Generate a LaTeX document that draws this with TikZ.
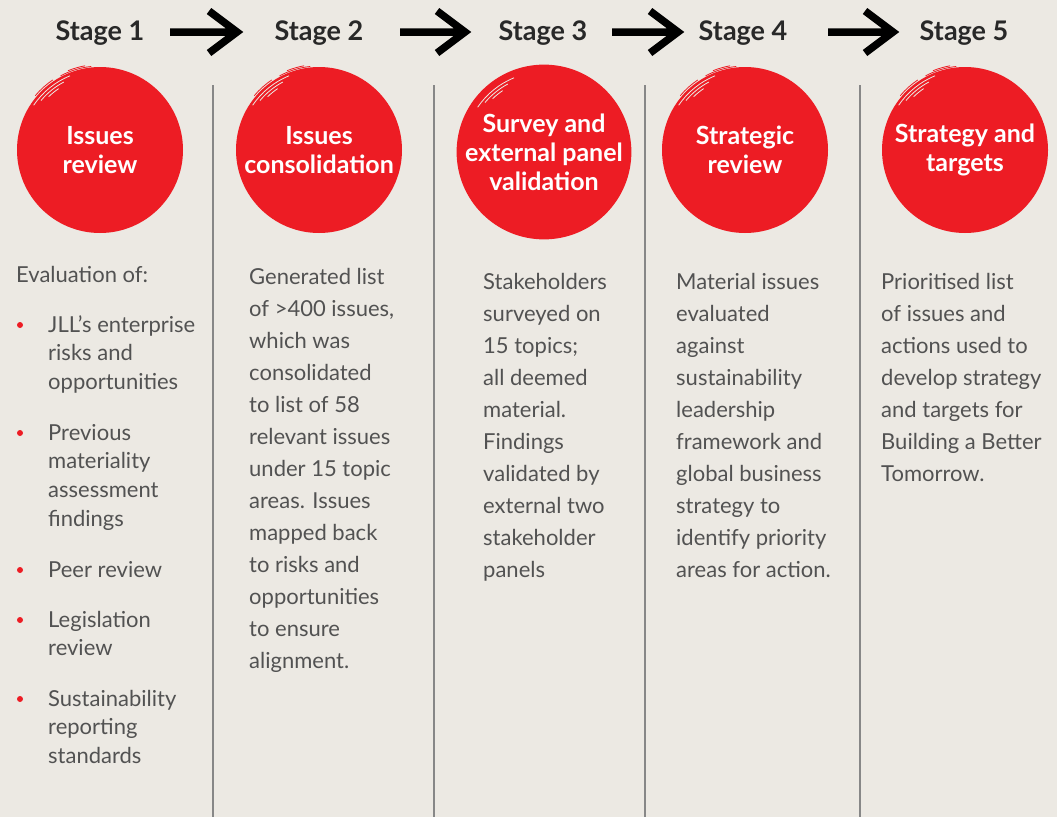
\documentclass[tikz,border=0pt]{standalone}
\usepackage{fontspec}
\setmainfont{Lato}
\definecolor{paper}{RGB}{236,233,227}
\definecolor{jllred}{RGB}{237,28,36}
\definecolor{ink}{RGB}{40,40,40}
\definecolor{bodyink}{RGB}{82,82,82}
\definecolor{rulegray}{RGB}{135,135,135}

\begin{document}
\begin{tikzpicture}[x=1pt,y=-1pt,
    stage/.style={anchor=base,inner sep=0pt,text=ink,font=\fontsize{27}{32}\selectfont\bfseries},
    blob/.style={circle,fill=jllred,minimum size=166pt,inner sep=0pt,text=white,align=center,
      font=\fontsize{25}{29}\selectfont\bfseries},
    bodytext/.style={anchor=base west,align=left,inner sep=0pt,text=bodyink,
      font=\fontsize{22}{32}\selectfont},
    itemtext/.style={bodytext,font=\fontsize{22}{28.7}\selectfont},
    reddot/.style={circle,fill=jllred,minimum size=6pt,inner sep=0pt},
    brush/.style={draw=black,line width=7.5pt,line join=miter},
    divider/.style={draw=rulegray,line width=1.5pt}]

  \fill[paper] (0,0) rectangle (1057,817);
  \useasboundingbox (0,0) rectangle (1057,817);

  % stage headings
  \begin{scope}[every node/.style={stage}]
    \node (s1) at (100,40) {Stage 1};
    \node (s2) at (319,40) {Stage 2};
    \node (s3) at (543,40) {Stage 3};
    \node (s4) at (743,40) {Stage 4};
    \node (s5) at (964,40) {Stage 5};
  \end{scope}

  % arrows between the headings
  \coordinate (a1) at (170,32); \coordinate (b1) at (237,32);
  \coordinate (a2) at (400,32); \coordinate (b2) at (465,32);
  \coordinate (a3) at (612,32); \coordinate (b3) at (678,32);
  \coordinate (a4) at (828,32); \coordinate (b4) at (893,32);
  \foreach \i in {1,...,4}
    \draw[brush] (a\i) -- (b\i) (b\i) ++(-28,-21) -- (b\i) -- ++(-28,21);

  % column dividers
  \coordinate (d1) at (213,85); \coordinate (e1) at (213,817);
  \coordinate (d2) at (434,85); \coordinate (e2) at (434,817);
  \coordinate (d3) at (645,85); \coordinate (e3) at (645,817);
  \coordinate (d4) at (860,85); \coordinate (e4) at (860,817);
  \foreach \i in {1,...,4}
    \path (d\i) edge[divider] (e\i);

  % red brush circles
  \begin{scope}[every node/.style={blob}]
    \node (c1) at (100,150) {Issues\\review};
    \node (c2) at (319,150) {Issues\\consolidation};
    \node (c3) at (544,152) {Survey and\\external panel\\validation};
    \node (c4) at (745,150) {Strategic\\review};
    \node (c5) at (965,150) {Strategy and\\targets};
  \end{scope}
  % brush streaks at the top left of each circle (y runs down, so angles are negative)
  \foreach \c in {c1,c2,c3,c4,c5} {
    \foreach \r/\p/\q in {80/-112/-146,77/-118/-140,74/-124/-134}
      \draw[paper,line width=0.8pt] (\c.center) ++(\p:\r) arc[start angle=\p,end angle=\q,radius=\r];
    \foreach \r/\p/\q in {84/-96/-118,85.5/-100/-112,84.5/-124/-140}
      \draw[jllred,line width=0.8pt] (\c.center) ++(\p:\r) arc[start angle=\p,end angle=\q,radius=\r];
  }

  % stage 1 list (base is the last line)
  \node[itemtext] (t1) at (16,282) {Evaluation of:};
  \begin{scope}[every node/.style={itemtext}]
    \node (i1) at (48,389.4) {JLL’s enterprise\\risks and\\opportunities};
    \node (i2) at (48,526.1) {Previous\\materiality\\assessment\\findings};
    \node (i3) at (48,577)   {Peer review};
    \node (i4) at (48,655.7) {Legislation\\review};
    \node (i5) at (48,763.4) {Sustainability\\reporting\\standards};
  \end{scope}
  \begin{scope}[every node/.style={reddot}]
    \node (p1) at (20,325) {};
    \node (p2) at (20,433) {};
    \node (p3) at (20,570) {};
    \node (p4) at (20,620) {};
    \node (p5) at (20,699) {};
  \end{scope}

  % stages 2 to 5 text
  \begin{scope}[every node/.style={bodytext}]
    \node (t2) at (249,668) {Generated list\\of >400 issues,\\which was\\consolidated\\to list of 58\\relevant issues\\under 15 topic\\areas. Issues\\mapped back\\to risks and\\opportunities\\to ensure\\alignment.};
    \node (t3) at (483,577) {Stakeholders\\surveyed on\\15 topics;\\all deemed\\material.\\Findings\\validated by\\external two\\stakeholder\\panels};
    \node (t4) at (676,577) {Material issues\\evaluated\\against\\sustainability\\leadership\\framework and\\global business\\strategy to\\identify priority\\areas for action.};
    \node (t5) at (881,481) {Prioritised list\\of issues and\\actions used to\\develop strategy\\and targets for\\Building a Better\\Tomorrow.};
  \end{scope}

\end{tikzpicture}
\end{document}
